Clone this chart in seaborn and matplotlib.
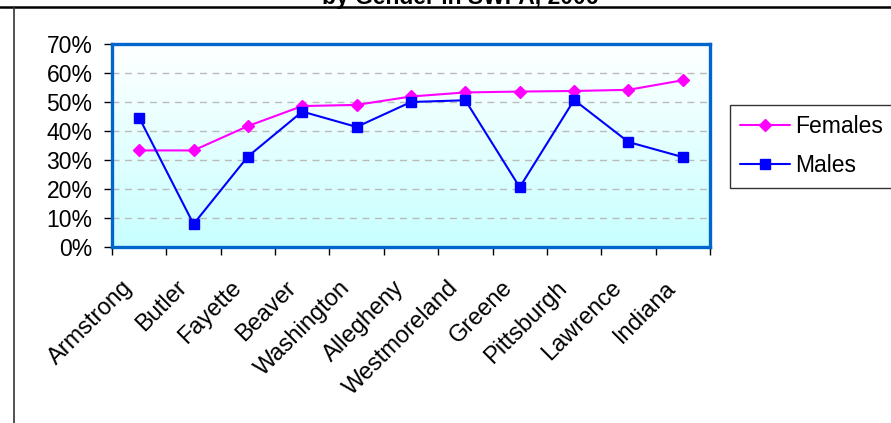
import numpy as np
import pandas as pd
import seaborn as sns
import matplotlib.pyplot as plt
from matplotlib.colors import LinearSegmentedColormap
from matplotlib.lines import Line2D
from matplotlib.ticker import PercentFormatter, FixedLocator
from matplotlib.transforms import ScaledTranslation

counties = ["Armstrong", "Butler", "Fayette", "Beaver", "Washington", "Allegheny",
            "Westmoreland", "Greene", "Pittsburgh", "Lawrence", "Indiana"]
females = [33.3, 33.3, 41.7, 48.6, 49.0, 51.9, 53.3, 53.6, 53.8, 54.2, 57.5]
males = [44.6, 7.9, 31.2, 46.7, 41.4, 50.0, 50.6, 20.6, 50.7, 36.2, 31.0]

sns.set_theme(style="white")
plt.rcParams["font.family"] = ["Liberation Sans", "DejaVu Sans"]
plt.rcParams["text.color"] = "black"
plt.rcParams["xtick.color"] = "black"
plt.rcParams["ytick.color"] = "black"

df = pd.DataFrame({"County": counties, "Females": females, "Males": males})

fig = plt.figure(figsize=(8.91, 4.23), dpi=100)
ax = fig.add_axes([112 / 891, 1 - 247 / 423, 598 / 891, 203 / 423])

# gradient background of the plot area
grad = np.linspace(0, 1, 256).reshape(-1, 1)
cmap = LinearSegmentedColormap.from_list("bg", ["#FFFFFF", "#C8FFFF"])
ax.imshow(grad, cmap=cmap, extent=[0, 1, 0, 1], transform=ax.transAxes,
          aspect="auto", zorder=0, origin="upper")

sns.lineplot(data=df, x="County", y="Females", ax=ax, color="#FF00FF", marker="D",
             markersize=6, markeredgewidth=1, markeredgecolor="#FF00FF",
             linewidth=1.5, label="Females", zorder=3, legend=False)
sns.lineplot(data=df, x="County", y="Males", ax=ax, color="#0000FF", marker="s",
             markersize=7.5, markeredgewidth=1, markeredgecolor="#0000FF",
             linewidth=1.5, label="Males", zorder=4, legend=False)

ax.set_xlim(-0.5, len(counties) - 0.5)
ax.set_ylim(0, 70)
ax.set_xlabel("")
ax.set_ylabel("")

ax.yaxis.set_major_locator(FixedLocator(np.arange(0, 71, 10)))
ax.yaxis.set_major_formatter(PercentFormatter(xmax=100, decimals=0))
ax.tick_params(axis="y", which="major", left=True, direction="out", length=6,
               width=1, pad=8, labelsize=16.5)

ax.set_xticks(range(len(counties)))
ax.set_xticklabels(counties, rotation=45, ha="right", va="center",
                   rotation_mode="anchor", fontsize=17)
ax.set_xticks(np.arange(-0.5, len(counties), 1), minor=True)
ax.tick_params(axis="x", which="major", length=0, pad=27)
ax.tick_params(axis="x", which="minor", bottom=True, direction="out", length=6, width=1)
shift = ScaledTranslation(-0.10, 0, fig.dpi_scale_trans)
for lab in ax.get_xticklabels():
    lab.set_transform(lab.get_transform() + shift)

for y in range(10, 70, 10):
    ax.axhline(y, color="#BBBBBB", linewidth=1, linestyle=(0, (5, 4)), zorder=1)

for s in ax.spines.values():
    s.set_visible(True)
    s.set_color("#0066CC")
    s.set_linewidth(2.4)
    s.set_zorder(5)

handles, labels = ax.get_legend_handles_labels()
leg = fig.legend(handles, labels, loc="upper left",
                 bbox_to_anchor=(730 / 891, 1 - 105 / 423), fontsize=16.5,
                 frameon=True, fancybox=False, shadow=False, borderpad=0.45,
                 labelspacing=0.7, handlelength=2.15, handletextpad=0.25,
                 borderaxespad=0)
leg.get_frame().set_edgecolor("black")
leg.get_frame().set_linewidth(1)

fig.text(460 / 891, 1 - 4 / 423, "by Gender in SWPA, 2006", ha="center",
         va="baseline", fontsize=16.5, fontweight="bold")

fig.add_artist(Line2D([0, 1], [1 - 7.5 / 423] * 2, transform=fig.transFigure,
                      color="black", linewidth=1.8))
fig.add_artist(Line2D([14 / 891] * 2, [0, 1 - 7.5 / 423], transform=fig.transFigure,
                      color="#333333", linewidth=1.2))

fig.savefig("out.png", dpi=100)
